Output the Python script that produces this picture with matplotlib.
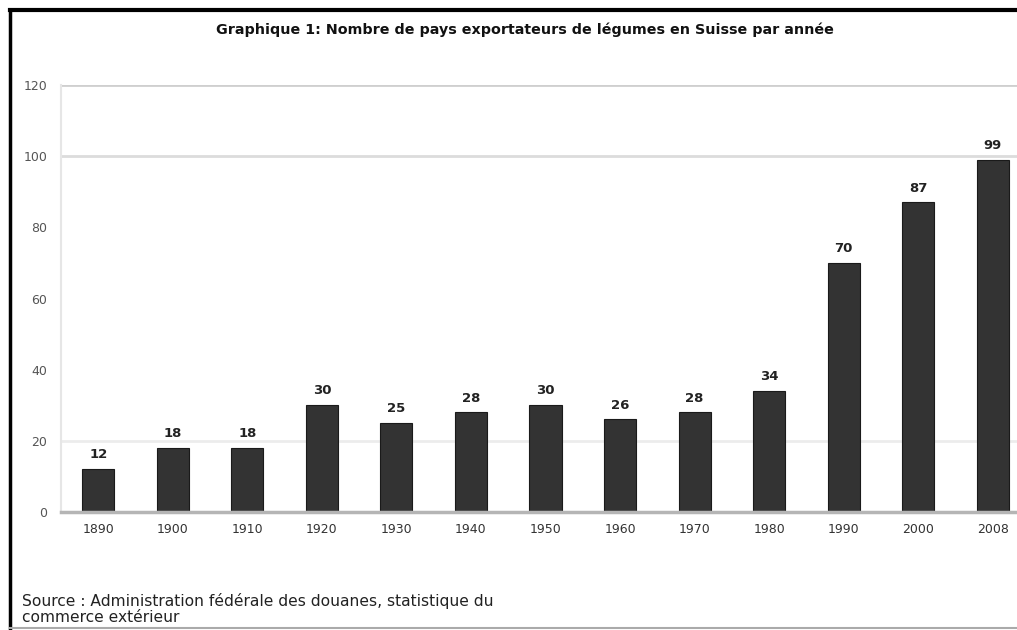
import matplotlib
matplotlib.use("Agg")
import matplotlib.pyplot as plt
from matplotlib.lines import Line2D

years = ["1890", "1900", "1910", "1920", "1930", "1940", "1950",
         "1960", "1970", "1980", "1990", "2000", "2008"]
values = [12, 18, 18, 30, 25, 28, 30, 26, 28, 34, 70, 87, 99]
yticks = [0, 20, 40, 60, 80, 100, 120]
grid_levels = [20, 100, 120]

title = "Graphique 1: Nombre de pays exportateurs de légumes en Suisse par année"
source = "Source : Administration fédérale des douanes, statistique du\ncommerce extérieur"

W, H = 1017, 630
fig = plt.figure(figsize=(W / 100, H / 100), dpi=100)
fig.patch.set_facecolor("white")

x0, x1 = 61, 1030
y0, y1 = 512, 85
ax = fig.add_axes([x0 / W, 1 - y0 / H, (x1 - x0) / W, (y0 - y1) / H])
ax.set_xlim(-0.5, len(years) - 0.5)
ax.set_ylim(0, 120)

for lvl, col in zip(grid_levels, ["#ececec", "#dcdcdc", "#cfcfcf"]):
    ax.axhline(lvl, color=col, lw=2, zorder=0)

xs = list(range(len(years)))
ax.bar(xs, values, width=0.43, color="#333333", edgecolor="#1a1a1a", linewidth=0.8, zorder=2)
for x, v in zip(xs, values):
    ax.text(x, v + 2.2, str(v), ha="center", va="bottom", fontsize=9.5,
            fontweight="bold", color="#222222")

ax.set_xticks(xs)
ax.set_xticklabels(years, fontsize=9, color="#333333")
ax.set_yticks(yticks)
ax.set_yticklabels([str(t) for t in yticks], fontsize=9, color="#555555")
ax.tick_params(axis="x", length=0, pad=8)
ax.tick_params(axis="y", length=0, pad=10)
for s in ["top", "right"]:
    ax.spines[s].set_visible(False)
ax.spines["left"].set_color("#e6e6e6")
ax.spines["left"].set_linewidth(1.5)
ax.spines["bottom"].set_color("#b5b5b5")
ax.spines["bottom"].set_linewidth(2.5)
ax.spines["bottom"].set_zorder(3)

fig.text(525 / W, 1 - 30 / H, title, ha="center", va="center", fontsize=10.3,
         fontweight="bold", color="#111111")
fig.text(22 / W, 1 - 609 / H, source, ha="left", va="center", fontsize=11.2,
         color="#222222", linespacing=1.05)

# frame lines
fig.add_artist(Line2D([10 / W, 1.0], [1 - 10 / H, 1 - 10 / H], color="black", lw=3, transform=fig.transFigure))
fig.add_artist(Line2D([10 / W, 10 / W], [1 - 10 / H, 0], color="black", lw=2.5, transform=fig.transFigure))
fig.add_artist(Line2D([10 / W, 1.0], [1 - 628 / H, 1 - 628 / H], color="#aaaaaa", lw=1.5, transform=fig.transFigure))

fig.savefig("out.png", dpi=100, facecolor="white")
